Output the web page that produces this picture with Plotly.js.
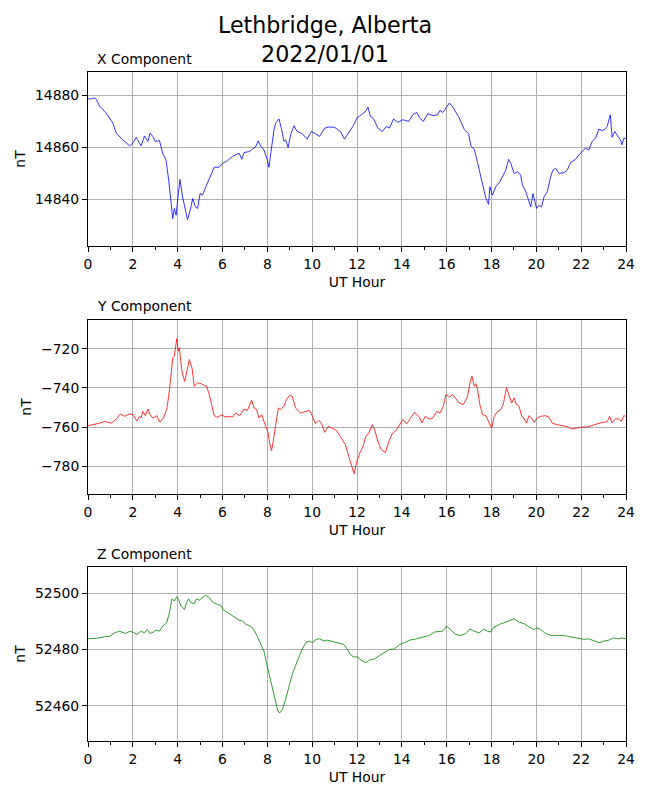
<!DOCTYPE html>
<html>
<head>
<meta charset="utf-8">
<script src="https://cdn.plot.ly/plotly-3.0.1.min.js"></script>
<style>html,body{margin:0;padding:0;background:#fff;}#chart{width:650px;height:800px;}</style>
</head>
<body>
<div id="chart"></div>
<script>
// ---- Data (UT hours and field values in nT) ----
const xHours = [0,0.15,0.3,0.37,0.52,0.81,1.11,1.26,1.48,1.85,2,2.15,2.3,2.37,2.52,2.67,2.77,2.89,3.0,3.19,3.33,3.48,3.6,3.7,3.78,3.85,3.93,4.0,4.1,4.22,4.34,4.44,4.56,4.67,4.79,4.89,5.0,5.11,5.26,5.48,5.63,5.85,6.0,6.22,6.44,6.59,6.74,6.86,6.96,7.19,7.33,7.48,7.59,7.7,7.85,8.0,8.07,8.19,8.3,8.37,8.52,8.64,8.74,8.81,8.93,9.04,9.19,9.33,9.56,9.78,9.96,10.15,10.33,10.56,10.74,11.0,11.26,11.44,11.63,11.81,11.93,
  12.0,12.19,12.39,12.49,12.59,12.74,12.93,13.13,13.3,13.45,13.63,13.82,14.04,14.31,14.49,14.67,14.79,14.96,15.16,15.38,15.6,15.7,15.82,15.97,16.12,16.27,16.41,16.56,16.79,16.98,17.08,17.23,17.35,17.45,17.57,17.64,17.75,17.87,17.93,18.04,18.19,18.37,18.52,18.64,18.76,18.86,19.01,19.16,19.3,19.38,19.53,19.64,19.75,19.85,19.93,20.01,20.12,20.24,20.34,20.49,20.64,20.74,20.86,21.01,21.23,21.38,21.53,21.75,21.9,22.04,22.19,22.34,22.49,22.64,22.79,22.91,23.05,23.16,23.3,23.38,23.5,23.64,23.75,23.82,23.9,24];
const xValues = [14878.6,14878.6,14879,14878.3,14875.8,14873.2,14869.3,14865.5,14863.5,14860.6,14861.6,14863.9,14861.6,14860.6,14864.4,14862.3,14865.5,14864.2,14862.3,14862.6,14857.8,14855.2,14847.5,14839.8,14832.7,14836.6,14834,14839.8,14847.7,14841,14835.9,14832.3,14835.9,14840.4,14837.2,14836.6,14842.3,14841.7,14844.9,14849.4,14852.4,14852.4,14853.9,14854.9,14856.5,14857.1,14857.8,14855.4,14858,14858.4,14859.3,14860.3,14862.5,14860.6,14859,14855.2,14852.4,14860.6,14866.8,14869.3,14870.9,14866.8,14862.3,14862.9,14860,14864.8,14868.3,14866.1,14865.2,14863.2,14866.1,14865.2,14864.2,14867.4,14867.8,14867.7,14866.1,14863.2,14865.5,14868,14870,
  14871.3,14872.5,14873.8,14875.5,14872,14871,14867.4,14866.1,14868,14867.4,14870.9,14869.6,14870.6,14870,14872.5,14873.4,14871.3,14870,14872.9,14872.2,14872.5,14874.2,14873.4,14875.1,14877,14875.5,14873.4,14871.3,14866.8,14865.2,14860.6,14859.3,14855.2,14851.3,14847.5,14844.3,14840.4,14838.2,14844.9,14841.7,14844.9,14846.8,14849.4,14851.3,14855.4,14853.9,14850,14850.7,14849.4,14845.6,14843,14839.8,14837.2,14842.3,14839.8,14836.6,14837.8,14837.2,14841,14843,14848.8,14851.3,14852,14850,14850.3,14851.3,14854.2,14855.4,14857.1,14858.4,14859.7,14859,14862.3,14863.5,14867,14866.5,14866.8,14868,14872.5,14863.9,14866.1,14864.2,14862.9,14861,14863.5,14863.5];

const yHours = [0,0.22,0.52,0.74,1.04,1.26,1.44,1.63,1.85,2.0,2.18,2.3,2.37,2.44,2.56,2.67,2.77,2.89,3.07,3.21,3.36,3.51,3.6,3.7,3.78,3.85,3.96,4.03,4.07,4.19,4.31,4.4,4.52,4.64,4.74,4.89,5.04,5.19,5.29,5.41,5.53,5.63,5.78,5.97,6.12,6.3,6.44,6.59,6.77,6.96,7.11,7.3,7.41,7.52,7.63,7.75,7.9,8.04,8.1,8.19,8.25,8.37,8.49,8.59,8.74,8.84,8.99,9.11,9.26,9.48,9.7,9.88,10,10.15,10.3,10.41,10.56,10.71,10.89,11.07,11.26,11.48,11.63,11.78,11.87,11.98,
  12.12,12.27,12.39,12.53,12.68,12.79,12.93,13.08,13.27,13.42,13.57,13.75,13.9,14.04,14.22,14.37,14.56,14.79,14.9,15.05,15.23,15.38,15.56,15.7,15.85,15.97,16.12,16.27,16.41,16.56,16.74,16.93,17.04,17.13,17.23,17.3,17.38,17.48,17.6,17.75,17.9,18.01,18.12,18.27,18.41,18.52,18.67,18.79,18.9,19.01,19.11,19.23,19.35,19.45,19.56,19.67,19.79,19.9,20.04,20.19,20.41,20.56,20.71,20.93,21.16,21.38,21.57,21.82,22.04,22.27,22.49,22.71,22.93,23.16,23.27,23.38,23.53,23.67,23.79,23.9,24];
const yValues = [-759.3,-758.8,-758,-757.1,-758,-755.9,-753.3,-754.5,-753.3,-753.7,-756.8,-754.5,-755.4,-752,-754.2,-750.8,-753.7,-755.4,-754.2,-757.6,-755.4,-751.1,-744.3,-734,-724.6,-723.8,-714.9,-721.2,-719.5,-731.5,-736.6,-732.3,-725.5,-729.7,-739.1,-737.4,-737.8,-738.8,-739.1,-743.4,-748.5,-754.2,-755,-753.7,-754.9,-754.5,-754.9,-752.8,-754.2,-750.8,-751.5,-746.3,-750.3,-751.1,-755.4,-753.7,-758.8,-763.1,-768.2,-772,-768.2,-757.9,-750.3,-751.1,-749.4,-746.3,-743.8,-744.3,-750.3,-752.8,-752,-751.5,-754.2,-758.3,-756.6,-758,-762.7,-759.7,-760.5,-761.7,-764.8,-769,-775,-781,-783.8,-778,
  -773.3,-769.9,-764.8,-763.1,-758.8,-761.4,-767.2,-771.6,-773,-767.4,-763.4,-761.7,-758.8,-756.2,-758.3,-755.9,-752.5,-754.9,-757.9,-754.5,-755.9,-755.4,-752,-752.8,-749.4,-743.4,-744.6,-743.4,-745.6,-747.7,-748.5,-744.6,-737.4,-734,-739.1,-737.8,-740.9,-748.5,-753.7,-754.2,-758,-760.5,-754.5,-752,-751.1,-748.5,-740,-744.3,-747.7,-745.1,-748.5,-749.4,-754.5,-755.4,-758,-754.2,-755.4,-757.6,-755.4,-754.5,-754.2,-754.9,-758,-758.8,-759.1,-759.7,-761,-760.5,-760,-760,-759.3,-758.3,-757.6,-757.3,-754.5,-757.9,-755.7,-755.9,-757.1,-754.2,-754.5];

const zHours = [0,0.37,0.74,0.96,1.19,1.41,1.67,1.85,2.0,2.18,2.37,2.52,2.64,2.77,2.92,3.04,3.19,3.33,3.51,3.63,3.75,3.85,3.96,4.04,4.15,4.3,4.4,4.49,4.59,4.74,4.84,4.96,5.08,5.23,5.38,5.56,5.78,5.93,6.03,6.3,6.52,6.74,6.89,7.04,7.26,7.41,7.56,7.7,7.85,7.96,8.07,8.22,8.37,8.47,8.56,8.67,8.81,8.96,9.11,9.26,9.41,9.56,9.73,9.88,10,10.18,10.33,10.52,10.67,10.89,11.11,11.41,11.56,11.7,11.84,
  12.0,12.19,12.39,12.56,12.79,13.01,13.23,13.45,13.67,13.9,14.12,14.34,14.56,14.79,15.01,15.23,15.45,15.67,15.82,16.0,16.19,16.41,16.64,16.86,17.04,17.23,17.45,17.67,17.82,17.97,18.07,18.34,18.56,18.79,19.01,19.23,19.45,19.67,19.9,20.04,20.19,20.41,20.64,20.86,21.16,21.38,21.6,21.9,22.12,22.34,22.56,22.79,23.01,23.23,23.45,23.67,23.82,24];
const zValues = [52483.8,52484,52484.5,52484.7,52485.9,52486.5,52485.7,52486.4,52486.2,52485.3,52486.5,52485.9,52487.1,52485.7,52486.2,52486.9,52486.5,52488.3,52489.5,52493,52498,52497.2,52498.7,52497.8,52495.4,52494.2,52496.6,52498,52496.6,52496.3,52498,52497.5,52498.3,52499.2,52498.7,52496.8,52496,52495.6,52494.2,52492.8,52491.6,52490.4,52490.2,52488.9,52488.3,52486.9,52484.5,52481.8,52479.4,52475.3,52471.7,52467,52461.7,52458.1,52457.5,52458.7,52462.2,52467,52471.1,52474.3,52477.6,52480.2,52482.6,52483,52482.4,52483.6,52483.8,52483,52483.3,52482.8,52482.4,52481.8,52480.2,52478.2,52477.4,
  52477.4,52476.2,52475.3,52476.2,52476.7,52477.9,52479.1,52480,52480.2,52481.8,52482.4,52483.3,52483.6,52484.1,52484.4,52485,52486.2,52486.5,52486.5,52488.3,52486.9,52485.3,52485,52485.7,52487.3,52486.5,52485.9,52487.3,52486.5,52486.2,52487.7,52488.9,52489.5,52490.1,52490.9,52489.7,52489.2,52488,52487.1,52487.7,52487.1,52485.7,52485,52485,52485,52484.7,52484.4,52484,52483.6,52483.8,52483,52482.4,52483,52483.3,52484.1,52483.8,52484.1,52483.8];

const panelTitles = ['X Component', 'Y Component', 'Z Component'];
const xAxisLabel = 'UT Hour';
const yAxisLabel = 'nT';
const chartTitle = 'Lethbridge, Alberta<br>2022/01/01';

// ---- Styling / layout ----
const FONT = 'DejaVu Sans, Liberation Sans, sans-serif';
const FS = 13.9;
const W = 650, H = 800;
const xDomain = [88 / W, 626 / W];
const panels = [
  {top: 72, bottom: 246, range: [14822.2, 14888.9], color: '#0000ff', x: xHours, y: xValues, titleY: 59},
  {top: 320, bottom: 494, range: [-794.2, -705.3], color: '#ff0000', x: yHours, y: yValues, titleY: 306},
  {top: 567, bottom: 741, range: [52447.5, 52509.3], color: '#008000', x: zHours, y: zValues, titleY: 554}
];

const traces = [];
const layout = {
  width: W, height: H,
  margin: {l: 0, r: 0, t: 0, b: 0, pad: 0},
  paper_bgcolor: '#ffffff', plot_bgcolor: '#ffffff',
  showlegend: false,
  font: {family: FONT, size: FS, color: '#000000'},
  title: {text: chartTitle, font: {family: FONT, size: 22.2, color: '#000000'},
          x: 0.5, xanchor: 'center', y: 1 - 33 / H, yanchor: 'middle', yref: 'container'},
  annotations: []
};

panels.forEach((p, i) => {
  const n = i === 0 ? '' : String(i + 1);
  traces.push({
    type: 'scatter', mode: 'lines', x: p.x, y: p.y,
    xaxis: 'x' + n, yaxis: 'y' + n,
    line: {color: p.color, width: 0.8}, hoverinfo: 'skip'
  });
  const common = {
    ticks: 'outside', ticklen: 5, tickwidth: 1, tickcolor: '#000000',
    showline: true, mirror: true, linecolor: '#000000', linewidth: 1,
    showgrid: true, gridcolor: '#b0b0b0', gridwidth: 1, zeroline: false,
    tickfont: {family: FONT, size: FS, color: '#000000'}
  };
  layout['xaxis' + n] = Object.assign({}, common, {
    domain: xDomain, anchor: 'y' + n, range: [0, 24], tick0: 0, dtick: 2,
    minor: {dtick: 1, tick0: 0, ticks: 'outside', ticklen: 3, tickwidth: 1, tickcolor: '#000000', showgrid: false},
    title: {text: xAxisLabel, font: {family: FONT, size: FS, color: '#000000'}, standoff: 6}
  });
  layout['yaxis' + n] = Object.assign({}, common, {
    domain: [1 - p.bottom / H, 1 - p.top / H], anchor: 'x' + n, range: p.range, dtick: 20,
    tickformat: 'd',
    title: {text: yAxisLabel, font: {family: FONT, size: FS, color: '#000000'}, standoff: 6}
  });
  layout.annotations.push({
    text: panelTitles[i], xref: 'paper', yref: 'paper',
    x: 95 / W, xanchor: 'left', y: 1 - p.titleY / H, yanchor: 'middle',
    showarrow: false, font: {family: FONT, size: FS, color: '#000000'}
  });
});

Plotly.newPlot('chart', traces, layout, {staticPlot: true, displayModeBar: false});
</script>
</body>
</html>
